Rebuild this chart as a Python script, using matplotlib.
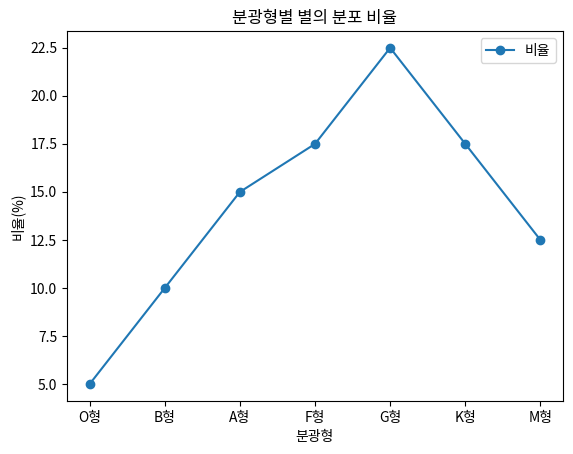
import matplotlib
matplotlib.use("Agg")
import matplotlib.pyplot as plt

plt.rcParams['font.family'] = ['Noto Sans CJK KR', 'DejaVu Sans']
plt.rcParams['axes.unicode_minus'] = False

spectral_types = ["O형", "B형", "A형", "F형", "G형", "K형", "M형"]
ratios = [5.0, 10.0, 15.0, 17.5, 22.5, 17.5, 12.5]

fig = plt.figure(figsize=(5.73, 4.54), dpi=100)
ax = fig.add_axes([67/573, 1 - 401/454, (563-67)/573, (401-31)/454])
ax.plot(spectral_types, ratios, marker='o', label="비율")
ax.set_title("분광형별 별의 분포 비율")
ax.set_xlabel("분광형")
ax.set_ylabel("비율(%)")
ax.legend()
fig.savefig("out.png", dpi=100)
